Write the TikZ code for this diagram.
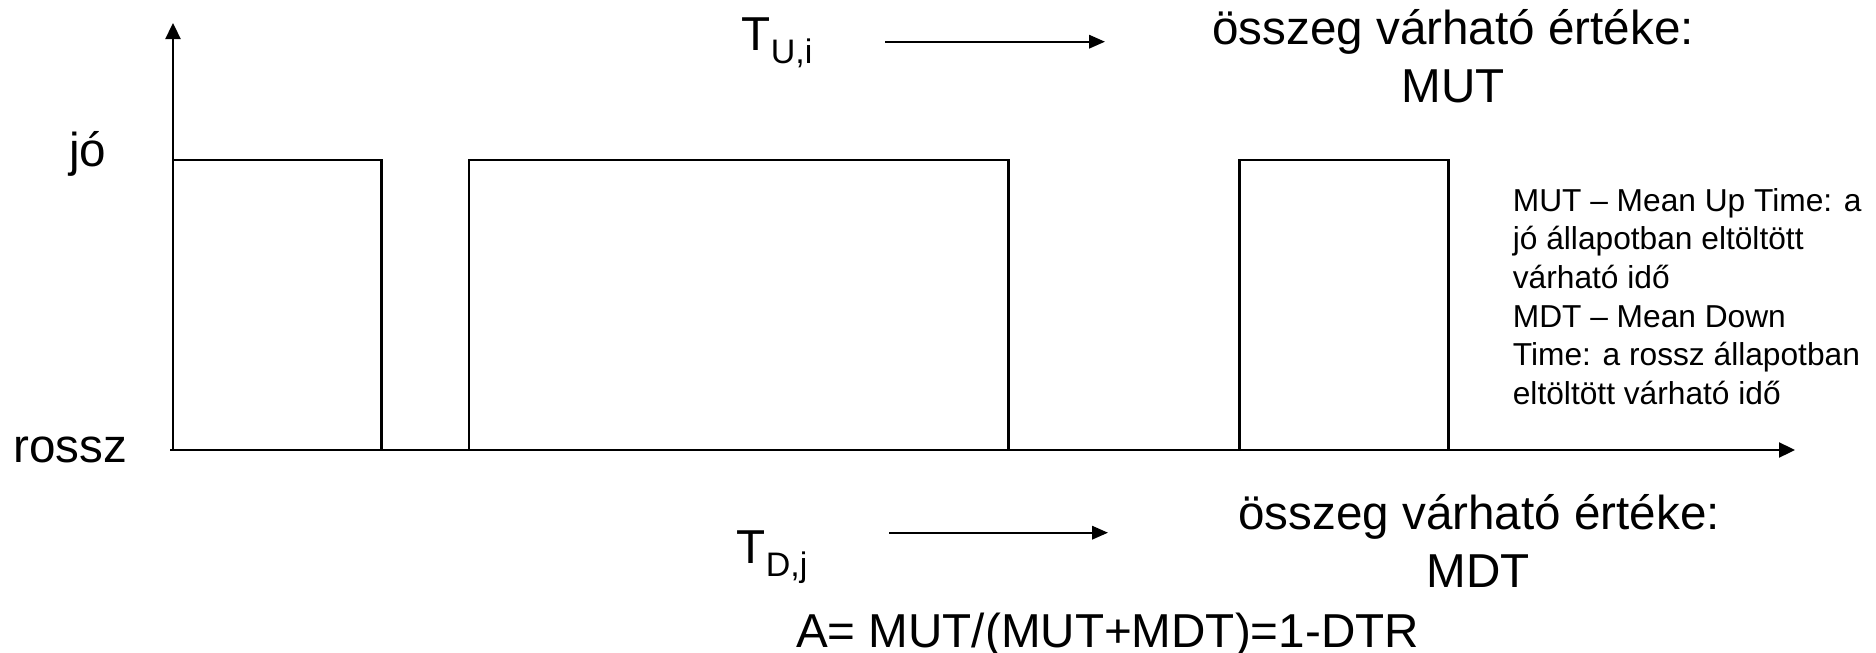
\documentclass[tikz,border=0pt]{standalone}
\usepackage{fontspec}
\setmainfont{Liberation Sans}
\usetikzlibrary{arrows.meta}
% lowered index after a capital, as in T_{U,i}
\newcommand\subidx[1]{\raisebox{-6.6pt}{\fontsize{17pt}{17pt}\selectfont #1}}
\begin{document}
\begin{tikzpicture}[x=0.5pt,y=-0.5pt,line width=1.15pt,
  big/.style={inner sep=0pt,anchor=base west,font=\fontsize{23.8pt}{28.75pt}\selectfont},
  bigc/.style={inner sep=0pt,anchor=base,font=\fontsize{23.8pt}{28.75pt}\selectfont},
  note/.style={inner sep=0pt,anchor=base west,font=\fontsize{15.85pt}{19.35pt}\selectfont},
  pulse/.style={draw,line width=1.15pt},
  axisline/.style={-{Triangle[length=8pt,width=7.5pt]}},
  timearrow/.style={-{Triangle[length=8pt,width=6.7pt]}}]
\useasboundingbox (0,0) rectangle (1876,653);

% up-time pulses of the state signal
\draw[pulse] (173,450) rectangle (381.5,160.3);
\draw[pulse] (468.8,450) rectangle (1008.5,160.3);
\draw[pulse] (1239.5,450) rectangle (1448.5,160.3);

% axes
\coordinate (origin) at (173,450);
\coordinate (ytip) at (173,23);
\coordinate (xstart) at (170,450);
\coordinate (xtip) at (1795,450);
\draw[axisline] (origin) -- (ytip);
\draw[axisline] (xstart) -- (xtip);

% state labels
\node[big] (good) at (68,166.6) {jó};
\node[big] (bad) at (12,462) {rossz};

% up times
\node[big] (tu) at (740.6,50) {T\subidx{U,i}};
\coordinate (tuA) at (885,41.7);
\coordinate (tuB) at (1105,41.7);
\draw[timearrow] (tuA) -- (tuB);
\node[bigc] (sumu) at (1453,45) {összeg várható értéke:};
\node[bigc] (mut) at (1453,102.5) {MUT};

% down times
\node[big] (td) at (735.6,563.3) {T\subidx{D,j}};
\coordinate (tdA) at (889,532.7);
\coordinate (tdB) at (1108,532.7);
\draw[timearrow] (tdA) -- (tdB);
\node[bigc] (sumd) at (1479,529.3) {összeg várható értéke:};
\node[bigc] (mdt) at (1478.5,587.3) {MDT};

% availability
\node[big] (avail) at (795,647) {A= MUT/(MUT+MDT)=1-DTR};

% explanation
\foreach \txt [count=\k from 0] in {MUT – Mean Up Time: a,jó állapotban eltöltött,várható idő,MDT – Mean Down,Time: a rossz állapotban,eltöltött várható idő}
  \node[note] (note\k) at (1511.7,211+38.7*\k) {\txt};
\end{tikzpicture}
\end{document}
